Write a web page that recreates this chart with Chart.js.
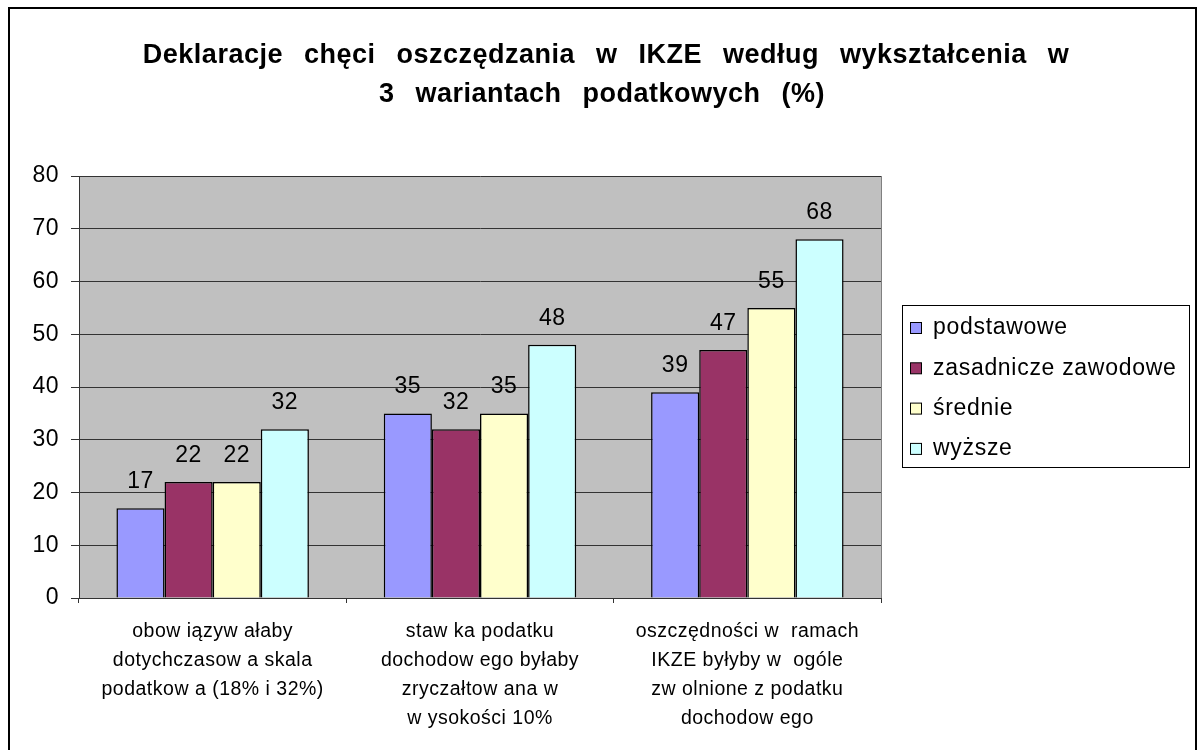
<!DOCTYPE html>
<html>
<head>
<meta charset="utf-8">
<script src="https://cdn.jsdelivr.net/npm/chart.js@4/dist/chart.umd.min.js"></script>
<style>
    html, body { margin: 0; padding: 0; background: #fff; }
    #wrap { position: relative; width: 1198px; height: 750px; }
</style>
</head>
<body>
<div id="wrap"><canvas id="chart" width="1198" height="750"></canvas></div>
<script>
// Categories (tax variants), shown as multi-line axis labels
const categories = [
    ['obow iązyw ałaby', 'dotychczasow a skala', 'podatkow a (18% i 32%)'],
    ['staw ka podatku', 'dochodow ego byłaby', 'zryczałtow ana w', 'w ysokości 10%'],
    ['oszczędności w  ramach', 'IKZE byłyby w  ogóle', 'zw olnione z podatku', 'dochodow ego']
];

// Series by education level
const podstawowe = [17, 35, 39];
const zasadnicze = [22, 32, 47];
const srednie = [22, 35, 55];
const wyzsze = [32, 48, 68];

const yTicks = [0, 10, 20, 30, 40, 50, 60, 70, 80];

const titleLines = [
    'Deklaracje chęci oszczędzania w IKZE według wykształcenia w',
    '3 wariantach podatkowych (%)'
];

const FONT = '"Liberation Sans", Arial, sans-serif';

// White page, outer frame, grey plot area and the title
const framePlugin = {
    id: 'frame',
    beforeDraw(chart) {
        const c = chart.ctx;
        // the original text is rendered a little wider than Arial
        c.letterSpacing = '0.5px';
        c.save();
        c.fillStyle = '#fff';
        c.fillRect(0, 0, chart.width, chart.height);
        c.strokeStyle = '#000';
        c.lineWidth = 2;
        c.strokeRect(9, 8, 1187, 760);
        const a = chart.chartArea;
        c.fillStyle = '#c0c0c0';
        c.fillRect(a.left, a.top, a.right - a.left, a.bottom - a.top);
        c.strokeStyle = '#808080';
        c.lineWidth = 1;
        c.beginPath();
        c.moveTo(a.right + 0.5, a.top);
        c.lineTo(a.right + 0.5, a.bottom);
        c.stroke();
        // title
        c.fillStyle = '#000';
        c.font = 'bold 27px ' + FONT;
        c.letterSpacing = '0.5px';
        c.wordSpacing = '13px';
        c.textAlign = 'center';
        c.textBaseline = 'alphabetic';
        c.fillText(titleLines[0], 606, 63);
        c.fillText(titleLines[1], 602, 102);
        c.restore();
    }
};

// Value labels above the bars and the boxed legend on the right
const labelsPlugin = {
    id: 'valueLabels',
    afterDatasetsDraw(chart) {
        const c = chart.ctx;
        c.save();
        c.fillStyle = '#000';
        c.font = '23px ' + FONT;
        c.letterSpacing = '0.5px';
        c.textAlign = 'center';
        c.textBaseline = 'alphabetic';
        chart.data.datasets.forEach((ds, i) => {
            chart.getDatasetMeta(i).data.forEach((bar, j) => {
                c.fillText(String(ds.data[j]), bar.x, bar.y - 20);
            });
        });

        // legend
        c.strokeStyle = '#000';
        c.lineWidth = 1;
        c.strokeRect(902.5, 305.5, 287, 162);
        c.font = '23px ' + FONT;
        c.letterSpacing = '0.7px';
        c.textAlign = 'left';
        c.textBaseline = 'middle';
        chart.data.datasets.forEach((ds, i) => {
            const y = 328 + i * 40.3;
            c.fillStyle = ds.backgroundColor;
            c.fillRect(910.5, y - 5.5, 11, 11);
            c.strokeRect(910.5, y - 5.5, 11, 11);
            c.fillStyle = '#000';
            c.fillText(ds.label, 933, y);
        });
        c.restore();
    }
};

const barStyle = {
    borderColor: '#000',
    borderWidth: 1.5,
    borderSkipped: 'bottom',
    categoryPercentage: 0.72,
    barPercentage: 1.0
};

new Chart(document.getElementById('chart'), {
    type: 'bar',
    data: {
        labels: categories,
        datasets: [
            { label: 'podstawowe', data: podstawowe, backgroundColor: '#9999ff', ...barStyle },
            { label: 'zasadnicze zawodowe', data: zasadnicze, backgroundColor: '#993366', ...barStyle },
            { label: 'średnie', data: srednie, backgroundColor: '#ffffcc', ...barStyle },
            { label: 'wyższe', data: wyzsze, backgroundColor: '#ccffff', ...barStyle }
        ]
    },
    options: {
        responsive: false,
        animation: false,
        layout: {
            padding: { top: 176, right: 317, bottom: 0, left: 0 }
        },
        plugins: {
            legend: { display: false },
            title: { display: false },
            tooltip: { enabled: false }
        },
        scales: {
            y: {
                min: 0,
                max: 80,
                afterBuildTicks(scale) {
                    scale.ticks = yTicks.map(v => ({ value: v }));
                },
                afterFit(scale) {
                    scale.width = 79;
                },
                ticks: {
                    color: '#000',
                    font: { family: FONT, size: 23 },
                    padding: 12
                },
                grid: {
                    color: '#333',
                    lineWidth: 1,
                    tickLength: 8,
                    tickColor: '#333'
                },
                border: { display: true, color: '#333', width: 1 }
            },
            x: {
                afterFit(scale) {
                    scale.height = 152;
                },
                ticks: {
                    color: '#000',
                    font: { family: FONT, size: 19.5, lineHeight: 1.49 },
                    padding: 14,
                    autoSkip: false,
                    maxRotation: 0,
                    minRotation: 0
                },
                grid: {
                    display: true,
                    drawOnChartArea: false,
                    drawTicks: true,
                    tickLength: 5,
                    color: '#333',
                    offset: true
                },
                border: { display: true, color: '#333', width: 1 }
            }
        }
    },
    plugins: [framePlugin, labelsPlugin]
});
</script>
</body>
</html>
